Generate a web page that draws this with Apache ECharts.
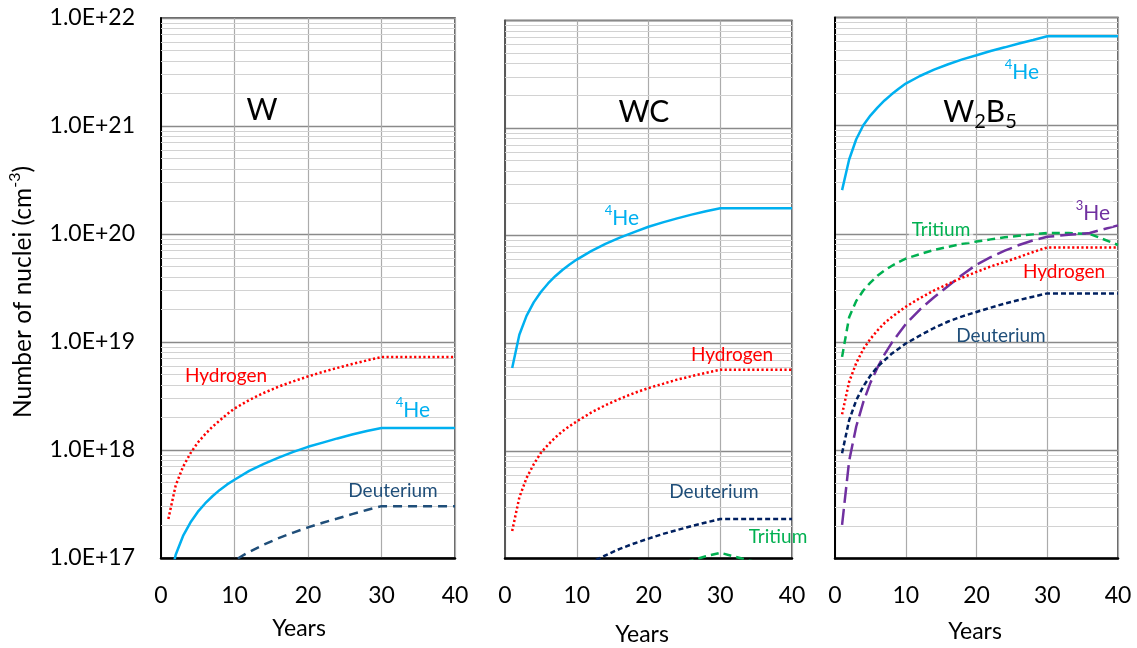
<!DOCTYPE html>
<html>
<head>
<meta charset="utf-8">
<title>Number of nuclei vs years</title>
<script src="https://cdn.jsdelivr.net/npm/echarts@6/dist/echarts.min.js"></script>
<style>
  html, body { margin: 0; padding: 0; background: #fff; }
  #chart { width: 1137px; height: 648px; }
</style>
</head>
<body>
<div id="chart"></div>
<script>
// ---- data ----
const years = [1, 2, 3, 4, 5, 6, 7, 8, 9, 10, 12, 14, 16, 18, 20, 22, 24, 26, 28, 30, 33, 36, 40];

// W
const wHydrogen  = [2.3e17, 4.7e17, 7.0e17, 9.3e17, 1.17e18, 1.4e18, 1.64e18, 1.88e18, 2.15e18, 2.42e18, 2.9e18, 3.38e18, 3.86e18, 4.32e18, 4.8e18, 5.28e18, 5.76e18, 6.25e18, 6.75e18, 7.27e18, 7.27e18, 7.27e18, 7.27e18];
const wHe4       = [5.3e16, 1.07e17, 1.6e17, 2.13e17, 2.67e17, 3.2e17, 3.73e17, 4.27e17, 4.8e17, 5.3e17, 6.4e17, 7.45e17, 8.5e17, 9.6e17, 1.07e18, 1.17e18, 1.28e18, 1.39e18, 1.5e18, 1.6e18, 1.6e18, 1.6e18, 1.6e18];
const wDeuterium = [9.5e15, 1.9e16, 2.85e16, 3.8e16, 4.75e16, 5.7e16, 6.65e16, 7.6e16, 8.55e16, 9.5e16, 1.14e17, 1.33e17, 1.53e17, 1.72e17, 1.92e17, 2.12e17, 2.32e17, 2.55e17, 2.78e17, 3.02e17, 3.02e17, 3.02e17, 3.02e17];

// WC
const wcHe4       = [5.9e18, 1.2e19, 1.8e19, 2.4e19, 3.0e19, 3.6e19, 4.2e19, 4.8e19, 5.4e19, 6.0e19, 7.2e19, 8.4e19, 9.6e19, 1.08e20, 1.21e20, 1.33e20, 1.45e20, 1.57e20, 1.69e20, 1.8e20, 1.8e20, 1.8e20, 1.8e20];
const wcHydrogen  = [1.8e17, 3.7e17, 5.6e17, 7.5e17, 9.6e17, 1.14e18, 1.33e18, 1.52e18, 1.7e18, 1.88e18, 2.27e18, 2.66e18, 3.05e18, 3.45e18, 3.84e18, 4.2e18, 4.6e18, 4.95e18, 5.3e18, 5.68e18, 5.68e18, 5.68e18, 5.68e18];
const wcDeuterium = [7.7e15, 1.54e16, 2.3e16, 3.1e16, 3.85e16, 4.6e16, 5.4e16, 6.15e16, 6.9e16, 7.7e16, 9.2e16, 1.07e17, 1.23e17, 1.38e17, 1.53e17, 1.69e17, 1.84e17, 2.0e17, 2.16e17, 2.33e17, 2.33e17, 2.33e17, 2.33e17];
const wcTritium   = [3.8e15, 7.6e15, 1.14e16, 1.52e16, 1.9e16, 2.28e16, 2.65e16, 3.0e16, 3.4e16, 3.75e16, 4.5e16, 5.2e16, 5.95e16, 6.7e16, 7.4e16, 8.1e16, 8.8e16, 9.6e16, 1.05e17, 1.13e17, 1.0e17, 8.9e16, 7.6e16];

// W2B5
const wbHe4       = [2.54e20, 4.87e20, 7.5e20, 1.01e21, 1.24e21, 1.47e21, 1.71e21, 1.95e21, 2.2e21, 2.45e21, 2.88e21, 3.3e21, 3.7e21, 4.1e21, 4.48e21, 4.9e21, 5.3e21, 5.75e21, 6.2e21, 6.7e21, 6.7e21, 6.7e21, 6.7e21];
const wbTritium   = [7.3e18, 1.7e19, 2.4e19, 3.0e19, 3.55e19, 4.1e19, 4.6e19, 5.05e19, 5.5e19, 5.9e19, 6.5e19, 7.1e19, 7.6e19, 8.1e19, 8.5e19, 8.9e19, 9.3e19, 9.6e19, 9.9e19, 1.02e20, 1.02e20, 1.0e20, 7.9e19];
const wbHe3       = [2.05e17, 8.0e17, 1.66e18, 2.79e18, 4.2e18, 5.8e18, 7.7e18, 9.8e18, 1.2e19, 1.47e19, 2.0e19, 2.6e19, 3.3e19, 4.2e19, 5.2e19, 6.1e19, 7.0e19, 7.9e19, 8.7e19, 9.4e19, 9.8e19, 1.02e20, 1.2e20];
const wbHydrogen  = [2.15e18, 4.3e18, 6.4e18, 8.6e18, 1.07e19, 1.28e19, 1.5e19, 1.7e19, 1.9e19, 2.12e19, 2.55e19, 3.0e19, 3.45e19, 3.95e19, 4.45e19, 5.0e19, 5.5e19, 6.1e19, 6.8e19, 7.5e19, 7.5e19, 7.5e19, 7.5e19];
const wbDeuterium = [9.4e17, 1.9e18, 2.9e18, 3.9e18, 4.9e18, 5.9e18, 6.8e18, 7.8e18, 8.7e18, 9.7e18, 1.15e19, 1.35e19, 1.55e19, 1.73e19, 1.9e19, 2.08e19, 2.27e19, 2.45e19, 2.63e19, 2.82e19, 2.82e19, 2.82e19, 2.82e19];

// axis ticks
const xTicks = [0, 10, 20, 30, 40];
const yTickLabels = ['1.0E+17', '1.0E+18', '1.0E+19', '1.0E+20', '1.0E+21', '1.0E+22'];
const yFirstExponent = 17;
const minorSteps = [2, 3, 4, 5, 6, 7, 8, 9];

// ---- styles ----
const FONT = 'Lato, "Open Sans", "DejaVu Sans", sans-serif';
const C = {
  he4: '#00B0F0', hydrogen: '#FF0000', deutW: '#1F4E79', deut: '#002060',
  tritium: '#00B050', he3: '#7030A0', text: '#000000'
};
const lineStyles = {
  he4:      { color: C.he4, width: 2.5, type: 'solid' },
  hydrogen: { color: C.hydrogen, width: 2.5, type: [2.2, 2.4], cap: 'butt' },
  deutW:    { color: C.deutW, width: 2.5, type: [9, 6] },
  deut:     { color: C.deut, width: 2.5, type: [5, 3] },
  tritium:  { color: C.tritium, width: 2.5, type: [8, 5] },
  he3:      { color: C.he3, width: 2.5, type: [16, 6] }
};

// ---- panels ----
const panels = [
  { grid: { left: 161, top: 18, width: 294, height: 540 }, showY: true, yLineColor: '#000', yearsAt: [299, 629],
    series: [['hydrogen', wHydrogen], ['he4', wHe4], ['deutW', wDeuterium]] },
  { grid: { left: 505, top: 20.5, width: 287, height: 538 }, showY: false, yLineColor: '#595959', yearsAt: [642, 635],
    series: [['he4', wcHe4], ['hydrogen', wcHydrogen], ['deut', wcDeuterium], ['tritium', wcTritium]] },
  { grid: { left: 835, top: 17.5, width: 283, height: 541 }, showY: false, yLineColor: '#000', yearsAt: [975, 632],
    series: [['he4', wbHe4], ['tritium', wbTritium], ['he3', wbHe3], ['hydrogen', wbHydrogen], ['deut', wbDeuterium]] }
];

// light minor grid lines at 2..9 within each decade
const minorLevels = [];
for (let e = yFirstExponent; e < yFirstExponent + yTickLabels.length - 1; e++) {
  minorSteps.forEach(m => minorLevels.push(m * Math.pow(10, e)));
}

const grids = [], xAxes = [], yAxes = [], series = [];
panels.forEach((p, i) => {
  grids.push(Object.assign({ show: true, borderColor: '#333', borderWidth: 1.5, containLabel: false }, p.grid));
  xAxes.push({
    type: 'value', gridIndex: i, min: xTicks[0], max: xTicks[xTicks.length - 1], interval: 10,
    axisLine: { show: true, onZero: false, lineStyle: { color: '#000', width: 2.5 } },
    axisTick: { show: false },
    axisLabel: { fontSize: 23, color: C.text, fontFamily: FONT, margin: 26 },
    splitLine: { show: true, lineStyle: { color: '#ababab', width: 1.2 } }
  });
  yAxes.push({
    type: 'log', logBase: 10, gridIndex: i, min: 1e17, max: 1e22,
    axisLine: { show: true, lineStyle: { color: p.yLineColor, width: 2 } },
    axisTick: { show: false },
    axisLabel: {
      show: p.showY, fontSize: 23, color: C.text, fontFamily: FONT, margin: 26,
      formatter: v => yTickLabels[Math.round(Math.log10(v)) - yFirstExponent]
    },
    splitLine: { show: true, lineStyle: { color: '#8a8a8a', width: 1.3 } }
  });
  // helper series carrying the minor grid lines
  series.push({
    type: 'line', xAxisIndex: i, yAxisIndex: i, data: [], z: 1, silent: true,
    markLine: {
      silent: true, z: 1, symbol: ['none', 'none'], animation: false,
      label: { show: false }, emphasis: { disabled: true },
      lineStyle: { color: '#d2d2d2', width: 1, type: 'solid' },
      data: minorLevels.map(v => ({ yAxis: v }))
    }
  });
  p.series.forEach(([kind, values]) => {
    series.push({
      type: 'line', xAxisIndex: i, yAxisIndex: i, z: 3,
      showSymbol: false, symbol: 'none', clip: true, smooth: false,
      lineStyle: lineStyles[kind],
      data: years.map((y, k) => [y, values[k]])
    });
  });
});

// ---- annotations ----
function label(x, y, text, color, size, extra) {
  return Object.assign({
    type: 'text', x: x, y: y, z: 10, silent: true,
    style: Object.assign({
      text: text, fill: color, fontSize: size, fontFamily: FONT,
      align: 'center', verticalAlign: 'middle', textAlign: 'center', textVerticalAlign: 'middle',
      rich: {
        sup: { fontSize: Math.round(size * 0.64), verticalAlign: 'top', lineHeight: Math.round(size * 0.8), fontFamily: FONT },
        sub: { fontSize: Math.round(size * 0.66), verticalAlign: 'bottom', lineHeight: Math.round(size * 0.8), fontFamily: FONT },
        b: { fontSize: size, lineHeight: Math.round(size * 1.3), fontFamily: FONT }
      }
    }, extra || {})
  });
}
const whiteBox = { backgroundColor: 'rgba(255,255,255,0.65)', padding: [0, 3] };

const graphics = [
  // panel titles
  label(262, 110, '{b|W}', C.text, 30),
  label(644, 112, '{b|WC}', C.text, 30),
  label(980, 112, '{b|W}{sub|2}{b|B}{sub|5}', C.text, 30),
  // W
  label(226, 376, '{b|Hydrogen}', C.hydrogen, 19),
  label(413, 410, '{sup|4}{b|He}', C.he4, 21),
  label(393, 491, '{b|Deuterium}', C.deutW, 19),
  // WC
  label(622, 218, '{sup|4}{b|He}', C.he4, 21),
  label(732, 355, '{b|Hydrogen}', C.hydrogen, 19),
  label(714, 492, '{b|Deuterium}', C.deutW, 19),
  label(778, 537, '{b|Tritium}', C.tritium, 19),
  // W2B5
  label(1022, 72, '{sup|4}{b|He}', C.he4, 21),
  label(1093, 213, '{sup|3}{b|He}', C.he3, 21, whiteBox),
  label(941, 230, '{b|Tritium}', C.tritium, 19, whiteBox),
  label(1064, 272, '{b|Hydrogen}', C.hydrogen, 19),
  label(1001, 336, '{b|Deuterium}', C.deutW, 19),
  // y-axis title
  Object.assign(label(23, 292, '{b|Number of nuclei (cm}{sup|-3}{b|)}', C.text, 24.5), { rotation: Math.PI / 2 })
];
// x-axis titles
panels.forEach(p => graphics.push(label(p.yearsAt[0], p.yearsAt[1], '{b|Years}', C.text, 23)));

const chart = echarts.init(document.getElementById('chart'), null, { renderer: 'canvas' });
chart.setOption({
  animation: false,
  backgroundColor: '#ffffff',
  textStyle: { fontFamily: FONT },
  grid: grids,
  xAxis: xAxes,
  yAxis: yAxes,
  series: series,
  graphic: graphics
});
</script>
</body>
</html>
